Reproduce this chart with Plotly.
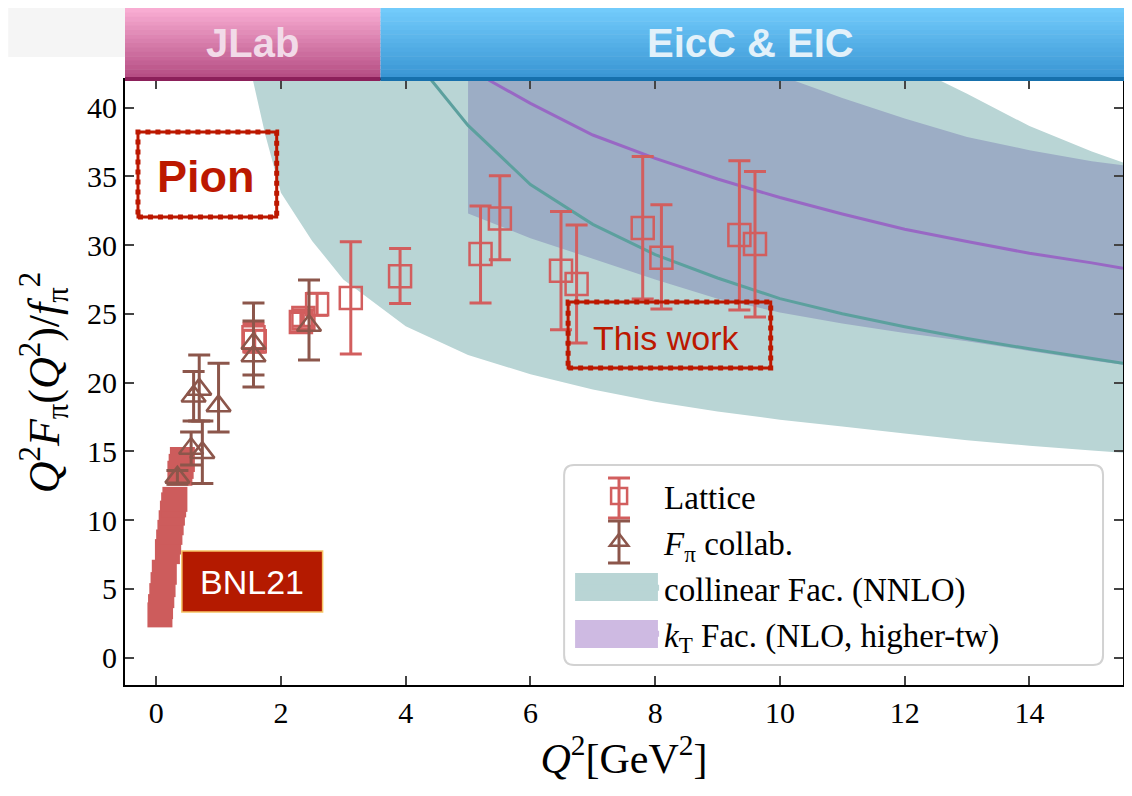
import plotly.graph_objects as go

# ---------------- data ----------------
# BNL21 lattice (filled squares at small Q^2)
bnl_q2 = [0.06, 0.07, 0.09, 0.11, 0.13, 0.18, 0.20, 0.22, 0.24, 0.26, 0.28, 0.30, 0.38, 0.40, 0.42]
bnl_val = [3.1, 3.7, 4.5, 5.3, 6.2, 7.7, 8.4, 9.1, 9.8, 10.5, 11.1, 11.5, 13.4, 13.9, 14.4]

# Lattice (this work)
lat_q2 = [1.56, 1.58, 2.32, 2.36, 2.58, 3.12, 3.91, 5.20, 5.51, 6.49, 6.74, 7.80, 8.10, 9.35, 9.60]
lat_val = [23.3, 23.0, 24.4, 24.7, 25.7, 26.15, 27.72, 29.35, 31.93, 28.12, 27.17, 31.24, 29.08, 30.73, 30.08]
lat_err_up = [1.0, 0.8, 0.7, 0.6, 0.8, 4.08, 2.02, 3.49, 3.10, 4.31, 4.29, 5.19, 3.84, 5.39, 5.26]
lat_err_dn = [1.0, 0.8, 0.7, 0.6, 0.8, 4.07, 1.98, 3.56, 3.01, 4.29, 4.29, 5.16, 3.73, 5.45, 5.31]

# F_pi collaboration
fpi_q2 = [0.34, 0.56, 0.60, 0.69, 0.74, 1.00, 1.56, 1.56, 2.45]
fpi_val = [13.1, 15.2, 19.0, 19.5, 14.9, 18.3, 22.84, 21.93, 24.15]
fpi_err_up = [0.5, 1.2, 1.8, 2.5, 2.3, 3.1, 2.95, 2.55, 3.31]
fpi_err_dn = [0.5, 1.2, 1.8, 2.3, 2.25, 1.9, 2.3, 2.25, 2.51]

# collinear factorisation (NNLO) band + central curve
coll_lo_q2 = [1.55, 1.75, 2.0, 2.5, 3.0, 4.0, 5.0, 6.0, 7.0, 8.0, 9.0, 10.0, 11.0, 12.0, 13.0, 14.0, 15.0, 15.5]
coll_lo_val = [42.0, 38.0, 33.8, 30.3, 27.5, 24.1, 22.0, 20.6, 19.5, 18.6, 17.9, 17.3, 16.8, 16.3, 15.8, 15.4, 15.05, 14.9]
coll_hi_q2 = [1.55, 12.55, 13.0, 14.0, 15.0, 15.5]
coll_hi_val = [42.0, 42.0, 41.0, 38.65, 36.8, 36.0]
coll_mid_q2 = [4.41, 5.0, 6.0, 7.0, 8.0, 9.0, 10.0, 11.0, 12.0, 13.0, 14.0, 15.0, 15.5]
coll_mid_val = [42.0, 38.7, 34.4, 31.5, 29.3, 27.6, 26.1, 25.0, 24.05, 23.2, 22.45, 21.75, 21.4]

# k_T factorisation (NLO, higher twist) band + central curve
kt_lo_q2 = [5.0, 6.0, 7.0, 8.0, 9.0, 10.0, 11.0, 12.0, 13.0, 14.0, 15.0, 15.5]
kt_lo_val = [32.3, 30.5, 29.0, 27.5, 26.1, 25.1, 24.3, 23.6, 23.0, 22.3, 21.6, 21.3]
kt_hi_q2 = [5.0, 10.2, 11.0, 12.0, 13.0, 14.0, 15.0, 15.5]
kt_hi_val = [42.0, 42.0, 40.7, 39.2, 37.85, 36.9, 36.1, 35.8]
kt_mid_q2 = [5.33, 6.0, 7.0, 8.0, 9.0, 10.0, 11.0, 12.0, 13.0, 14.0, 15.0, 15.5]
kt_mid_val = [42.0, 40.3, 38.0, 36.3, 34.8, 33.45, 32.25, 31.15, 30.25, 29.4, 28.7, 28.3]

x_ticks = [0, 2, 4, 6, 8, 10, 12, 14]
y_ticks = [0, 5, 10, 15, 20, 25, 30, 35, 40]

# ---------------- styles ----------------
RED = "rgb(210,94,94)"
BNL_RED = "rgb(205,92,92)"
BROWN = "rgb(140,86,75)"
TEAL_FILL = "rgb(185,213,213)"
KT_FILL = "rgb(156,173,197)"
KT_LEGEND = "rgb(206,186,226)"
TEAL_LINE = "rgb(92,160,158)"
PURPLE_LINE = "rgb(152,104,196)"
DARKRED = "rgb(188,24,0)"
SERIF = "Liberation Serif"
SANS = "Liberation Sans"

fig = go.Figure()

# bands
fig.add_trace(go.Scatter(
    x=coll_lo_q2 + coll_hi_q2[::-1], y=coll_lo_val + coll_hi_val[::-1],
    fill="toself", fillcolor=TEAL_FILL, mode="none", hoverinfo="skip",
    name="collinear Fac. (NNLO)", legendrank=3))
fig.add_trace(go.Scatter(
    x=kt_lo_q2 + kt_hi_q2[::-1], y=kt_lo_val + kt_hi_val[::-1],
    fill="toself", fillcolor=KT_FILL, mode="none", hoverinfo="skip",
    showlegend=False))
# legend-only entry for the kT band (lavender patch as in the reference)
fig.add_trace(go.Scatter(
    x=[None], y=[None], fill="toself", fillcolor=KT_LEGEND, mode="none",
    name="<i>k</i><sub>T</sub> Fac. (NLO, higher-tw)", legendrank=4))

# central curves
fig.add_trace(go.Scatter(x=coll_mid_q2, y=coll_mid_val, mode="lines",
                         line=dict(color=TEAL_LINE, width=3), showlegend=False))
fig.add_trace(go.Scatter(x=kt_mid_q2, y=kt_mid_val, mode="lines",
                         line=dict(color=PURPLE_LINE, width=3), showlegend=False))

# BNL21
fig.add_trace(go.Scatter(x=bnl_q2, y=bnl_val, mode="markers",
                         marker=dict(symbol="square", size=25, color=BNL_RED, line=dict(width=0)),
                         showlegend=False))

# Lattice
fig.add_trace(go.Scatter(
    x=lat_q2, y=lat_val, mode="markers", name="Lattice", legendrank=1,
    marker=dict(symbol="square-open", size=22, color=RED, line=dict(width=2.5, color=RED)),
    error_y=dict(type="data", symmetric=False, array=lat_err_up, arrayminus=lat_err_dn,
                 color=RED, thickness=3, width=11)))

# F_pi collab
fig.add_trace(go.Scatter(
    x=fpi_q2, y=fpi_val, mode="markers", name="<i>F</i><sub>π</sub> collab.", legendrank=2,
    marker=dict(symbol="triangle-up-open", size=21, color=BROWN, line=dict(width=2.5, color=BROWN)),
    error_y=dict(type="data", symmetric=False, array=fpi_err_up, arrayminus=fpi_err_dn,
                 color=BROWN, thickness=3, width=11)))

# ---------------- decorations ----------------
# screen pixel -> paper helpers (plot area on screen: x 125..1125, y 80..685;
# the page body adds an 8 px offset, compensated through the margins below)
def px(v):
    return (v - 125) / 1000.0


def py(v):
    return (685 - v) / 605.0


shapes = []
# light grey page strip at top
shapes.append(dict(type="rect", xref="paper", yref="paper", x0=px(8), x1=px(1132),
                   y0=py(57), y1=py(8), fillcolor="rgb(245,245,245)", line=dict(width=0), layer="below"))


def gradient(x0, x1, top, bottom, c_top, c_bot, n=16):
    out = []
    h = (bottom - top) / n
    for i in range(n):
        t = i / (n - 1)
        c = tuple(round(c_top[k] + (c_bot[k] - c_top[k]) * t) for k in range(3))
        out.append(dict(type="rect", xref="paper", yref="paper", x0=px(x0), x1=px(x1),
                        y0=py(top + (i + 1) * h + 0.5), y1=py(top + i * h),
                        fillcolor="rgb(%d,%d,%d)" % c, line=dict(width=0), layer="above"))
    return out


shapes += gradient(125, 381, 8, 78, (248, 172, 210), (182, 78, 132))
shapes += gradient(381, 1127, 8, 78, (114, 203, 251), (58, 150, 212))
shapes.append(dict(type="rect", xref="paper", yref="paper", x0=px(125), x1=px(381),
                   y0=py(81), y1=py(77), fillcolor="rgb(140,32,90)", line=dict(width=0), layer="above"))
shapes.append(dict(type="rect", xref="paper", yref="paper", x0=px(381), x1=px(1127),
                   y0=py(81), y1=py(77), fillcolor="rgb(22,112,172)", line=dict(width=0), layer="above"))

# rough boxes ("Pion", "This work")
for (a, b, c, d) in [(138, 277, 132, 217), (569, 772, 302, 368)]:
    shapes.append(dict(type="rect", xref="paper", yref="paper", x0=px(a), x1=px(b),
                       y0=py(d), y1=py(c), line=dict(color=DARKRED, width=3), layer="above"))
    shapes.append(dict(type="rect", xref="paper", yref="paper", x0=px(a), x1=px(b),
                       y0=py(d), y1=py(c), line=dict(color=DARKRED, width=5, dash="dot"), layer="above"))

# BNL21 label box
shapes.append(dict(type="rect", xref="paper", yref="paper", x0=px(182), x1=px(323),
                   y0=py(612), y1=py(551), fillcolor="rgb(180,26,0)",
                   line=dict(color="rgb(246,196,100)", width=1.5), layer="above"))

# legend frame (rounded)
lx0, lx1, ly0, ly1 = px(565), px(1105), py(665), py(465)
rx, ry = 10 / 1000.0, 10 / 605.0
path = (f"M{lx0+rx},{ly1} L{lx1-rx},{ly1} Q{lx1},{ly1} {lx1},{ly1-ry} "
        f"L{lx1},{ly0+ry} Q{lx1},{ly0} {lx1-rx},{ly0} L{lx0+rx},{ly0} "
        f"Q{lx0},{ly0} {lx0},{ly0+ry} L{lx0},{ly1-ry} Q{lx0},{ly1} {lx0+rx},{ly1} Z")
shapes.append(dict(type="path", xref="paper", yref="paper", path=path,
                   fillcolor="rgba(255,255,255,0.85)", line=dict(color="rgb(210,210,210)", width=2),
                   layer="above"))
# legend patches for the bands
shapes.append(dict(type="rect", xref="paper", yref="paper", x0=px(576), x1=px(659),
                   y0=py(601), y1=py(573), fillcolor=TEAL_FILL, line=dict(width=0), layer="above"))
shapes.append(dict(type="rect", xref="paper", yref="paper", x0=px(576), x1=px(659),
                   y0=py(648), y1=py(620), fillcolor=KT_LEGEND, line=dict(width=0), layer="above"))
# error-bar glyphs behind the legend markers
for (cx, top, bot, col) in [(620, 478, 518, RED), (620, 521, 563, BROWN)]:
    shapes.append(dict(type="line", xref="paper", yref="paper", x0=px(cx), x1=px(cx),
                       y0=py(bot), y1=py(top), line=dict(color=col, width=3), layer="above"))
    for yy in (top, bot):
        shapes.append(dict(type="line", xref="paper", yref="paper", x0=px(cx - 11), x1=px(cx + 11),
                           y0=py(yy), y1=py(yy), line=dict(color=col, width=3), layer="above"))

annotations = [
    dict(text="<b>JLab</b>", x=px(253), y=py(43), xref="paper", yref="paper", showarrow=False,
         xanchor="center", yanchor="middle",
         font=dict(family=SANS, size=40, color="rgb(242,218,232)")),
    dict(text="<b>EicC &amp; EIC</b>", x=px(752), y=py(43), xref="paper", yref="paper", showarrow=False,
         xanchor="center", yanchor="middle",
         font=dict(family=SANS, size=40, color="rgb(226,241,250)")),
    dict(text="<b>Pion</b>", x=px(206), y=py(176), xref="paper", yref="paper", showarrow=False,
         xanchor="center", yanchor="middle",
         font=dict(family=SANS, size=45, color=DARKRED)),
    dict(text="This work", x=px(667), y=py(338), xref="paper", yref="paper", showarrow=False,
         xanchor="center", yanchor="middle",
         font=dict(family=SANS, size=34, color=DARKRED)),
    dict(text="BNL21", x=px(252), y=py(582), xref="paper", yref="paper", showarrow=False,
         xanchor="center", yanchor="middle",
         font=dict(family=SANS, size=34, color="white")),
]

fig.update_layout(
    width=1124, height=788,
    margin=dict(l=117, r=7, t=72, b=111),
    paper_bgcolor="white", plot_bgcolor="white",
    shapes=shapes, annotations=annotations,
    showlegend=True,
    legend=dict(x=px(575), y=py(468), xanchor="left", yanchor="top",
                bgcolor="rgba(0,0,0,0)", borderwidth=0, itemwidth=80,
                font=dict(family=SERIF, size=33, color="black"),
                traceorder="normal"),
    xaxis=dict(range=[-0.5, 15.5], tickvals=x_ticks, ticks="inside", ticklen=9, tickwidth=2,
               showline=True, linewidth=2, linecolor="black", mirror="ticks", showgrid=False,
               zeroline=False, tickfont=dict(family=SERIF, size=30, color="black"),
               title=dict(text="<i>Q</i><sup>2</sup>[GeV<sup>2</sup>]",
                          font=dict(family=SERIF, size=42, color="black"), standoff=12)),
    yaxis=dict(range=[-2, 42], tickvals=y_ticks, ticks="inside", ticklen=9, tickwidth=2,
               showline=True, linewidth=2, linecolor="black", mirror="ticks", showgrid=False,
               zeroline=False, tickfont=dict(family=SERIF, size=30, color="black"),
               title=dict(text="<i>Q</i><sup>2</sup><i>F</i><sub>π</sub>(<i>Q</i><sup>2</sup>)/<i>f</i><sub>π</sub><sup>2</sup>",
                          font=dict(family=SERIF, size=44, color="black"), standoff=14)),
)

fig.write_html("out.html")
